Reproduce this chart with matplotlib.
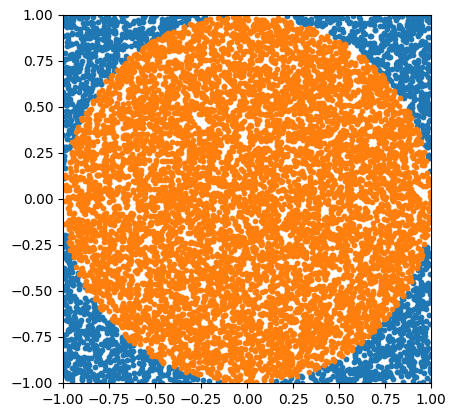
import numpy as np
import matplotlib
matplotlib.use("Agg")
import matplotlib.pyplot as plt

# Monte Carlo estimate of pi: uniform samples in the square [-1, 1]^2.
# The reference itself shows a random sample, so a seeded sample stands in for it.
n_samples = 10000
radius = 1.0
x_limits = [-1.0, 1.0]
y_limits = [-1.0, 1.0]
tick_values = [-1.0, -0.75, -0.5, -0.25, 0.0, 0.25, 0.5, 0.75, 1.0]

rng = np.random.default_rng(7)
xs = rng.uniform(-1, 1, n_samples)
ys = rng.uniform(-1, 1, n_samples)
inside = xs**2 + ys**2 <= radius**2

fig = plt.figure(figsize=(4.57, 4.18), dpi=100)
ax = fig.add_axes([62/457, 35/418, 370/457, 368/418])
ax.scatter(xs[~inside], ys[~inside], s=10, color="#1f77b4")
ax.scatter(xs[inside], ys[inside], s=10, color="#ff7f0e")
ax.set_xlim(x_limits)
ax.set_ylim(y_limits)
ax.set_xticks(tick_values)
ax.set_yticks(tick_values)
ax.set_aspect("equal")
fig.savefig("out.png", dpi=100)
